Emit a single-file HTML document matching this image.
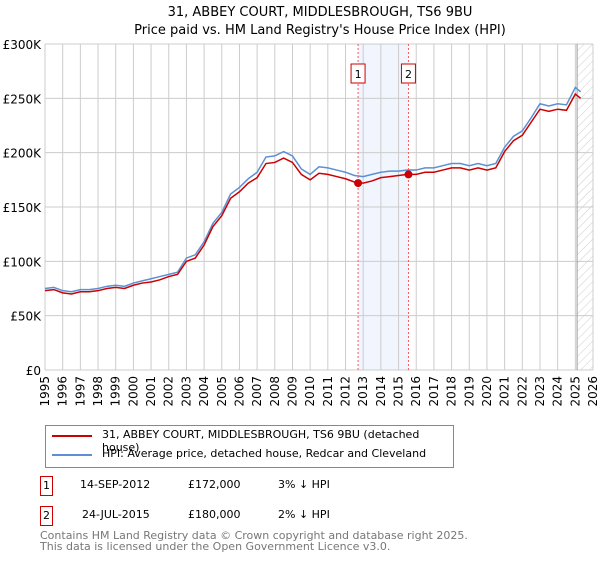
<!DOCTYPE html>
<html><head><meta charset="utf-8"><style>
body{margin:0;background:#fff;font-family:"Liberation Sans","DejaVu Sans",sans-serif;}
</style></head><body>
<svg width="600" height="560" xmlns="http://www.w3.org/2000/svg" style="font-family:'DejaVu Sans','Liberation Sans',sans-serif">
<text x="320" y="16" font-size="13" text-anchor="middle">31, ABBEY COURT, MIDDLESBROUGH, TS6 9BU</text>
<text x="320" y="34" font-size="13" text-anchor="middle">Price paid vs. HM Land Registry's House Price Index (HPI)</text>
<g id="grid"></g><g id="marks"></g><g id="axes"></g>
<rect x="45" y="139" width="548" height="106" fill="none" stroke="#888" transform="translate(0,288) scale(1,0.5)" opacity="0"/>
</svg>
<div style="position:absolute;left:45px;top:425px;width:407px;height:41px;border:1px solid #888;font-family:'DejaVu Sans',sans-serif;font-size:11px">
<div style="position:absolute;left:6px;top:9px;width:40px;height:2px;background:#cc0000"></div>
<div style="position:absolute;left:56px;top:2px">31, ABBEY COURT, MIDDLESBROUGH, TS6 9BU (detached house)</div>
<div style="position:absolute;left:6px;top:28px;width:40px;height:2px;background:#5b8fd6"></div>
<div style="position:absolute;left:56px;top:21px">HPI: Average price, detached house, Redcar and Cleveland</div>
</div>
<div style="font-family:'DejaVu Sans',sans-serif;font-size:11px">
<div style="position:absolute;left:40px;top:476px;width:11px;height:18px;border:1px solid #c00;text-align:center;line-height:18px">1</div>
<div style="position:absolute;left:80px;top:478px">14-SEP-2012</div>
<div style="position:absolute;left:188px;top:478px">£172,000</div>
<div style="position:absolute;left:278px;top:478px">3% ↓ HPI</div>
<div style="position:absolute;left:40px;top:506px;width:11px;height:18px;border:1px solid #c00;text-align:center;line-height:18px">2</div>
<div style="position:absolute;left:82px;top:508px">24-JUL-2015</div>
<div style="position:absolute;left:188px;top:508px">£180,000</div>
<div style="position:absolute;left:278px;top:508px">2% ↓ HPI</div>
<div style="position:absolute;left:40px;top:530px;color:#777;line-height:11px">Contains HM Land Registry data © Crown copyright and database right 2025.<br>This data is licensed under the Open Government Licence v3.0.</div>
</div>
<script>
const years=[1995,1995.5,1996,1996.5,1997,1997.5,1998,1998.5,1999,1999.5,2000,2000.5,2001,2001.5,2002,2002.5,2003,2003.5,2004,2004.5,2005,2005.5,2006,2006.5,2007,2007.5,2008,2008.5,2009,2009.5,2010,2010.5,2011,2011.5,2012,2012.5,2013,2013.5,2014,2014.5,2015,2015.5,2016,2016.5,2017,2017.5,2018,2018.5,2019,2019.5,2020,2020.5,2021,2021.5,2022,2022.5,2023,2023.5,2024,2024.5,2025,2025.3];
const hpi=[75,76,73,72,74,74,75,77,78,77,80,82,84,86,88,90,103,106,118,135,145,162,168,176,182,196,197,201,197,185,180,187,186,184,182,179,178,180,182,183,183,184,184,186,186,188,190,190,188,190,188,190,205,215,220,232,245,243,245,244,260,256];
const price=[73,74,71,70,72,72,73,75,76,75,78,80,81,83,86,88,100,103,115,132,142,158,164,172,177,190,191,195,191,180,175,181,180,178,176,173,172,174,177,178,179,180,180,182,182,184,186,186,184,186,184,186,201,211,216,228,240,238,240,239,254,250];
const saleYears=[2012.71,2015.56];
const saleValues=[172,180];
const yTicks=[0,50,100,150,200,250,300];
const yTickLabels=["£0","£50K","£100K","£150K","£200K","£250K","£300K"];
const xTicks=[];for(let y=1995;y<=2026;y++)xTicks.push(y);
const NS="http://www.w3.org/2000/svg";
const X0=45,X1=593,Y0=370,Y1=44;
const sx=v=>X0+(v-1995)/(31)*(X1-X0);
const sy=v=>Y0-v/300*(Y0-Y1);
function mk(t,a,p){const e=document.createElementNS(NS,t);for(const k in a)e.setAttribute(k,a[k]);p.appendChild(e);return e;}
const grid=document.getElementById('grid'),marks=document.getElementById('marks'),axes=document.getElementById('axes');
// shaded region between sales
let sh=mk('rect',{x:sx(saleYears[0]),y:Y1,width:sx(saleYears[1])-sx(saleYears[0]),height:Y0-Y1,fill:'#eef3fc',opacity:0.8},grid);


xTicks.forEach(t=>{const l=mk('line',{x1:sx(t),x2:sx(t),y1:Y1,y2:Y0,stroke:'#ccc'},grid);


const tx=mk('text',{x:0,y:0,'font-size':12,'text-anchor':'end',transform:`translate(${sx(t)+4},${Y0+6}) rotate(-90)`},axes);tx.textContent=t;

});
yTicks.forEach((t,i)=>{const l=mk('line',{x1:X0,x2:X1,y1:sy(t),y2:sy(t),stroke:'#ccc'},grid);


const tx=mk('text',{x:X0-4,y:sy(t)+5,'font-size':12,'text-anchor':'end'},axes);tx.textContent=yTickLabels[i];

});
// hatched future
const defs=mk('defs',{},grid);const pat=mk('pattern',{id:'hatch',width:6,height:6,patternUnits:'userSpaceOnUse',patternTransform:'rotate(45)'},defs);
mk('line',{x1:0,y1:0,x2:0,y2:6,stroke:'#ccc','stroke-width':1},pat);
const hr=mk('rect',{x:sx(2025.1),y:Y1,width:X1-sx(2025.1),height:Y0-Y1,fill:'url(#hatch)'},grid);


const vl=mk('line',{x1:sx(2025.1),x2:sx(2025.1),y1:Y1,y2:Y0,stroke:'#999'},grid);


const hp=mk('polyline',{points:years.map((y,i)=>sx(y)+','+sy(hpi[i])).join(' '),fill:'none',stroke:'#5b8fd6','stroke-width':1.5},marks);


const pp=mk('polyline',{points:years.map((y,i)=>sx(y)+','+sy(price[i])).join(' '),fill:'none',stroke:'#cc0000','stroke-width':1.5},marks);


saleYears.forEach((y,i)=>{
const d=mk('line',{x1:sx(y),x2:sx(y),y1:Y1,y2:Y0,stroke:'#f55','stroke-dasharray':'2,2'},marks);


const c=mk('circle',{cx:sx(y),cy:sy(saleValues[i]),r:4,fill:'#cc0000'},marks);


const b=mk('rect',{x:sx(y)-7,y:Y1+20,width:14,height:19,fill:'#fff',stroke:'#c00'},marks);


const t=mk('text',{x:sx(y),y:Y1+34,'font-size':11,'text-anchor':'middle'},marks);t.textContent=i+1;

});
</script>
</body></html>
